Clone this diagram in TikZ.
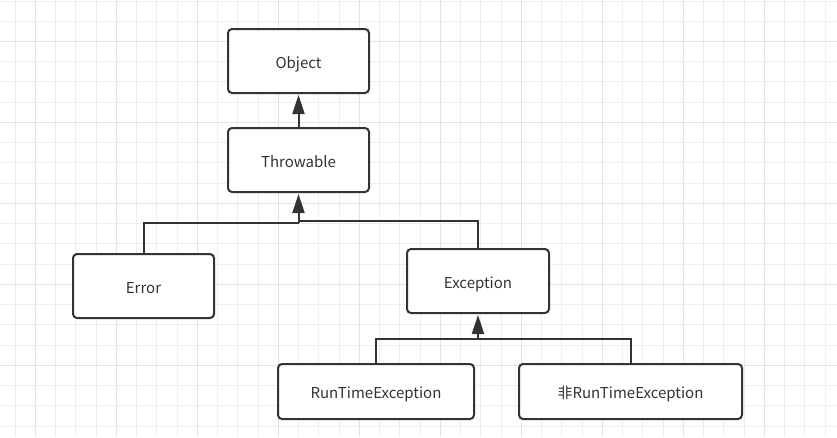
\documentclass[tikz,border=0pt]{standalone}
\usepackage{fontspec}
\setmainfont{Noto Sans CJK SC}
\usetikzlibrary{arrows.meta}
\definecolor{ln}{HTML}{333333}
\definecolor{gridminor}{HTML}{EEEEEE}
\definecolor{gridmajor}{HTML}{E2E2E2}
\tikzset{
  box/.style={draw=ln, line width=2pt, rounded corners=4pt, fill=white,
    text=ln, font=\fontsize{15}{18}\selectfont, inner sep=0pt,
    text height=14.5pt, text depth=0pt},
  conn/.style={draw=ln, line width=2pt},
  inh/.style={conn, -{Triangle[length=19pt,width=12pt]}, shorten >=1pt},
}
\begin{document}
\begin{tikzpicture}[x=1pt,y=-1pt]
\useasboundingbox (0,0) rectangle (837,437);
\fill[white] (0,0) rectangle (837,437);
% grid
\foreach \i in {0,...,41} {
  \pgfmathsetmacro{\gx}{15+20.25*\i}
  \pgfmathtruncatemacro{\mj}{mod(\i,4)==1}
  \ifnum\mj=1
    \draw[gridmajor, line width=1.2pt] (\gx,0) -- (\gx,437);
  \else
    \draw[gridminor, line width=1pt] (\gx,0) -- (\gx,437);
  \fi
}
\foreach \i in {0,...,21} {
  \pgfmathsetmacro{\gy}{1+20.24*\i}
  \pgfmathtruncatemacro{\mj}{mod(\i,4)==2}
  \ifnum\mj=1
    \draw[gridmajor, line width=1.2pt] (0,\gy) -- (837,\gy);
  \else
    \draw[gridminor, line width=1pt] (0,\gy) -- (837,\gy);
  \fi
}
% nodes
\node[box, minimum width=141pt, minimum height=64pt] (obj) at (298.5,61) {Object};
\node[box, minimum width=141pt, minimum height=64pt] (thr) at (298.5,160) {Throwable};
\node[box, minimum width=141pt, minimum height=64pt] (err) at (143.5,286) {Error};
\node[box, minimum width=142pt, minimum height=64pt] (exc) at (478,281) {Exception};
\node[box, minimum width=196pt, minimum height=55pt] (rte) at (376,391.5) {RunTimeException};
\node[box, minimum width=223pt, minimum height=55pt] (nrte) at (630.5,391.5) {非RunTimeException};
% junctions
\coordinate (j1) at (298.5,223);
\coordinate (j2) at (298.5,221);
\coordinate (j3) at (478,339);
% connectors
\draw[inh] (thr.north) -- (obj.south);
\draw[conn] (err.north) |- (j1);
\draw[conn] (exc.north) |- (j2);
\draw[inh] (j1) -- (thr.south);
\draw[conn] (rte.north) |- (j3);
\draw[conn] (nrte.north) |- (j3);
\draw[inh] (j3) -- (exc.south);
\end{tikzpicture}
\end{document}
